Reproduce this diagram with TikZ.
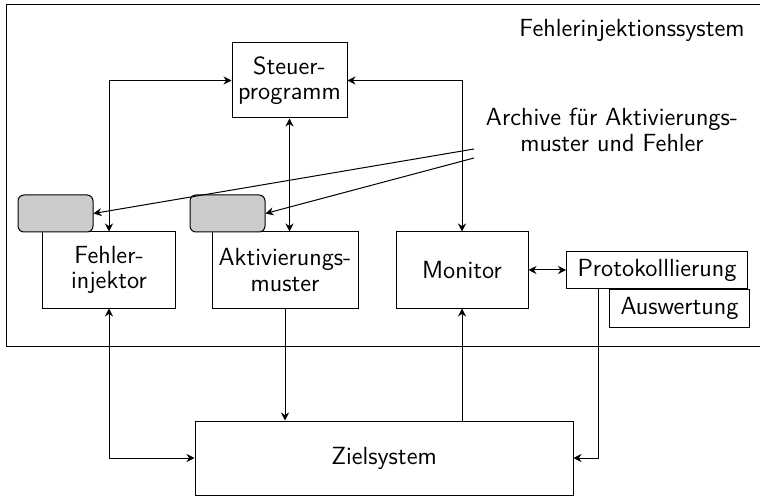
\documentclass[tikz,border=0pt]{standalone}
\usepackage{tikz}
\usetikzlibrary{positioning,calc,arrows.meta}

\begin{document}
\begin{tikzpicture}[
	x=0.5pt, y=-0.5pt,
	every path/.style = {line width=0.5pt},
	tip/.style = {-{Stealth[length=4pt,width=4pt]}},
	tips/.style = {{Stealth[length=4pt,width=4pt]}-{Stealth[length=4pt,width=4pt]}},
	box/.style = {rectangle, draw, inner sep=1pt, align=center,
		font=\sffamily\fontsize{12.4}{12.8}\selectfont},
	archiv/.style = {rectangle, draw, rounded corners=3pt, fill=gray!40,
		minimum width=37.5pt, minimum height=18.5pt},
	]
	\useasboundingbox (0,0) rectangle (760,497);
	\draw (6,5) rectangle (775,346);
	\node[font=\sffamily\fontsize{12.4}{12.8}\selectfont] (system) at (632,30) {Fehlerinjektionssystem};

	\begin{scope}[every node/.append style={box}]
	\node[minimum width=57.5pt, minimum height=37.5pt] (steuer) at (289.5,80.5) {Steuer-\\programm};
	\node[minimum width=66.5pt, minimum height=38pt] (injektor) at (109,270) {Fehler-\\injektor};
	\node[minimum width=73pt, minimum height=38pt] (muster) at (285,270) {Aktivierungs-\\muster};
	\node[minimum width=66pt, minimum height=38pt] (monitor) at (462,270) {Monitor};
	\node[minimum width=70pt, minimum height=19pt, anchor=north west] (auswertung) at (609,289) {Auswertung};
	\node[fill=white, minimum width=90.5pt, minimum height=18.5pt, anchor=south west] (protokoll) at (566,289) {Protokolllierung};
	\node[minimum width=189pt, minimum height=37pt] (ziel) at (384,458) {Zielsystem};
	\end{scope}

	\node[archiv] (archivA) at (55.5,213.5) {};
	\node[archiv] (archivB) at (227.5,213.5) {};
	\node[align=center, font=\sffamily\fontsize{12.4}{12.8}\selectfont] (archivtext) at (612,130) {Archive f\"ur Aktivierungs-\\muster und Fehler};
	\coordinate (archivtA) at (474,149);
	\coordinate (archivtB) at (474,158);

	% Steuerprogramm
	\draw[tips] (steuer.west) -| (injektor.north);
	\draw[tips] (steuer.south) -- (steuer.south |- muster.north);
	\draw[tips] (steuer.east) -| (monitor.north);
	\draw[tip] (archivtA) -- (archivA.east);
	\draw[tip] (archivtB) -- (archivB.east);

	% Zielsystem
	\draw[tips] (injektor.south) |- (ziel.west);
	\draw[tip] (muster.south) -- (muster.south |- ziel.north);
	\draw[tip] (ziel.north -| monitor.south) -- (monitor.south);
	\draw[tips] (monitor.east) -- (protokoll.west |- monitor.east);
	\draw[tip] ($(protokoll.south west)+(32,0)$) |- (ziel.east);
\end{tikzpicture}
\end{document}
